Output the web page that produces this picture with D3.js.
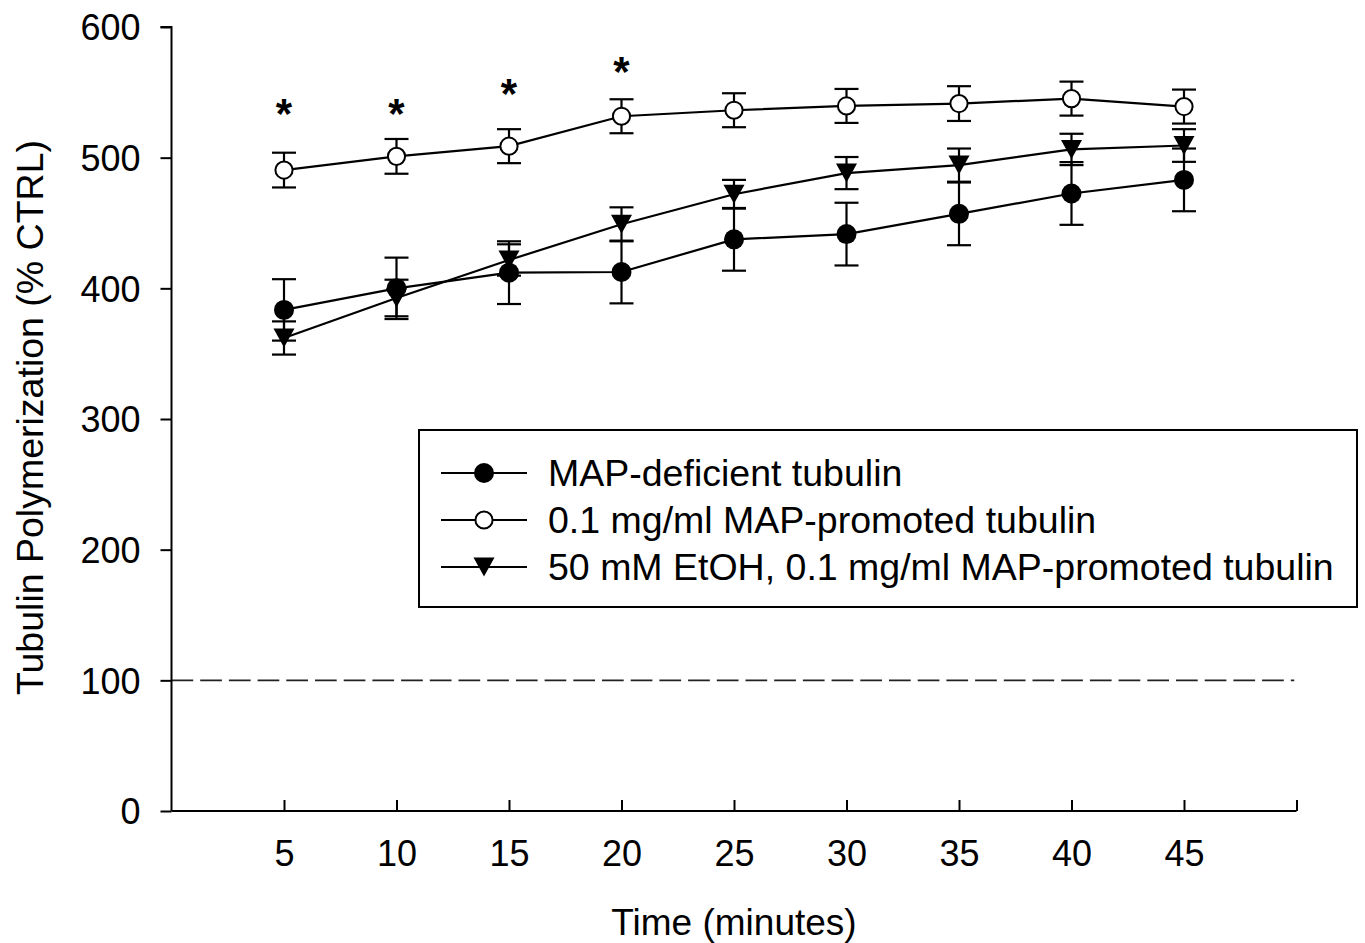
<!DOCTYPE html>
<html>
<head>
<meta charset="utf-8">
<script src="https://cdn.jsdelivr.net/npm/d3@7"></script>
<style>
  html, body { margin: 0; padding: 0; background: #fff; }
  svg { display: block; }
  text { font-family: "Liberation Sans", Arial, Helvetica, sans-serif; fill: #000; }
</style>
</head>
<body>
<svg id="chart" width="1365" height="943"></svg>
<script>
// ---- data ----
const times = [5, 10, 15, 20, 25, 30, 35, 40, 45];
const xTicks = [5, 10, 15, 20, 25, 30, 35, 40, 45, 50];
const xTickLabels = ["5", "10", "15", "20", "25", "30", "35", "40", "45", ""];
const yTicks = [0, 100, 200, 300, 400, 500, 600];

const mapDeficient    = [383.5, 400, 412, 412.5, 437.5, 441.5, 457, 472.6, 483];
const mapDeficientErr = [23.5, 23.5, 24, 24, 24, 24, 24, 24, 24];
const mapPromoted     = [490.5, 501, 508.8, 531.7, 536.3, 539.6, 541.4, 545.2, 539.1];
const mapPromotedErr  = [13.3, 13.3, 13, 13, 13, 13, 13.3, 13, 13];
const ethanol         = [362, 392.6, 421.7, 449, 472, 488.2, 494.3, 506.3, 509.3];
const ethanolErr      = [12.7, 14, 12, 13, 11, 12.3, 12.7, 12, 12.5];

const starTimes  = [5, 10, 15, 20];
const starValues = [538, 538, 553.3, 570];

const controlLevel = 100;

const seriesNames = [
  "MAP-deficient tubulin",
  "0.1 mg/ml MAP-promoted tubulin",
  "50 mM EtOH, 0.1 mg/ml MAP-promoted tubulin"
];
const xTitle = "Time (minutes)";
const yTitle = "Tubulin Polymerization (% CTRL)";

// ---- layout ----
const svg = d3.select("#chart");
const x = d3.scaleLinear().domain([0, 50]).range([171.5, 1296.5]);
const y = d3.scaleLinear().domain([0, 600]).range([811, 27]);

const series = [
  { name: seriesNames[0], values: mapDeficient, err: mapDeficientErr, marker: "filled" },
  { name: seriesNames[1], values: mapPromoted,  err: mapPromotedErr,  marker: "open" },
  { name: seriesNames[2], values: ethanol,      err: ethanolErr,      marker: "triangle" }
];

// control dashed line
svg.append("line")
  .attr("x1", x(0)).attr("x2", x(49.9))
  .attr("y1", y(controlLevel)).attr("y2", y(controlLevel))
  .attr("stroke", "#222").attr("stroke-width", 1.6)
  .attr("stroke-dasharray", "21.7 7");

// axes
const yAxis = d3.axisLeft(y).tickValues(yTicks).tickSize(11).tickPadding(20).tickFormat(d3.format("d"));
const gy = svg.append("g").attr("transform", `translate(${x(0)},0)`).call(yAxis);
gy.select(".domain").attr("stroke", "#000").attr("stroke-width", 2).attr("d", `M-11,${y(600)}H0V${y(0)}`);
gy.selectAll(".tick line").attr("stroke", "#000").attr("stroke-width", 2);
gy.selectAll(".tick text").style("font-size", "36px").attr("dy", "0.36em")
  .style("font-family", '"Liberation Sans", Arial, sans-serif');

const xAxis = d3.axisBottom(x).tickValues(xTicks).tickSize(-11).tickPadding(0)
  .tickFormat((d, i) => xTickLabels[i]);
const gx = svg.append("g").attr("transform", `translate(0,${y(0)})`).call(xAxis);
gx.select(".domain").attr("stroke", "#000").attr("stroke-width", 2).attr("d", `M${x(0)},0H${x(50)}`);
gx.selectAll(".tick line").attr("stroke", "#000").attr("stroke-width", 2);
gx.selectAll(".tick text").style("font-size", "36px").attr("y", 55).attr("dy", 0)
  .style("font-family", '"Liberation Sans", Arial, sans-serif');

// axis titles
svg.append("text").attr("x", (x(0) + x(50)) / 2).attr("y", 935)
  .attr("text-anchor", "middle").style("font-size", "37px").text(xTitle);
svg.append("text")
  .attr("transform", `translate(43, ${(140 + 695) / 2}) rotate(-90)`)
  .attr("text-anchor", "middle").style("font-size", "37.5px").text(yTitle);

// marker drawing
function drawMarker(g, type, cx, cy) {
  if (type === "filled") {
    g.append("circle").attr("cx", cx).attr("cy", cy).attr("r", 10).attr("fill", "#000");
  } else if (type === "open") {
    g.append("circle").attr("cx", cx).attr("cy", cy).attr("r", 8.6)
      .attr("fill", "#fff").attr("stroke", "#000").attr("stroke-width", 2);
  } else {
    const w = 10.5, h = 9.5;
    g.append("path")
      .attr("d", `M${cx - w},${cy - h}L${cx + w},${cy - h}L${cx},${cy + h}Z`)
      .attr("fill", "#000");
  }
}

const line = d3.line().x((d, i) => x(times[i])).y(d => y(d));
const plot = svg.append("g");

series.forEach(s => {
  const g = plot.append("g");
  // error bars
  s.values.forEach((v, i) => {
    const cx = x(times[i]);
    const top = y(v + s.err[i]), bot = y(v - s.err[i]);
    g.append("line").attr("x1", cx).attr("x2", cx).attr("y1", top).attr("y2", bot)
      .attr("stroke", "#000").attr("stroke-width", 2.2);
    [top, bot].forEach(yy => g.append("line")
      .attr("x1", cx - 12).attr("x2", cx + 12).attr("y1", yy).attr("y2", yy)
      .attr("stroke", "#000").attr("stroke-width", 2.2));
  });
  g.append("path").datum(s.values).attr("d", line)
    .attr("fill", "none").attr("stroke", "#000").attr("stroke-width", 2.2);
  s.values.forEach((v, i) => drawMarker(g, s.marker, x(times[i]), y(v)));
});

// significance stars
const starSize = 42;
svg.append("g").selectAll("text").data(starTimes).join("text")
  .attr("x", d => x(d)).attr("y", (d, i) => y(starValues[i]) + 0.48 * starSize)
  .attr("text-anchor", "middle").style("font-size", starSize + "px").style("font-weight", "bold")
  .text("*");

// legend
const lg = svg.append("g");
lg.append("rect").attr("x", 419).attr("y", 430).attr("width", 938).attr("height", 177)
  .attr("fill", "#fff").attr("stroke", "#000").attr("stroke-width", 2);
series.forEach((s, i) => {
  const cy = 473 + i * 47;
  lg.append("line").attr("x1", 441).attr("x2", 527).attr("y1", cy).attr("y2", cy)
    .attr("stroke", "#000").attr("stroke-width", 2.2);
  drawMarker(lg, s.marker, 484, cy);
  lg.append("text").attr("x", 548).attr("y", cy + 12.5).style("font-size", "37.5px").text(s.name);
});
</script>
</body>
</html>
